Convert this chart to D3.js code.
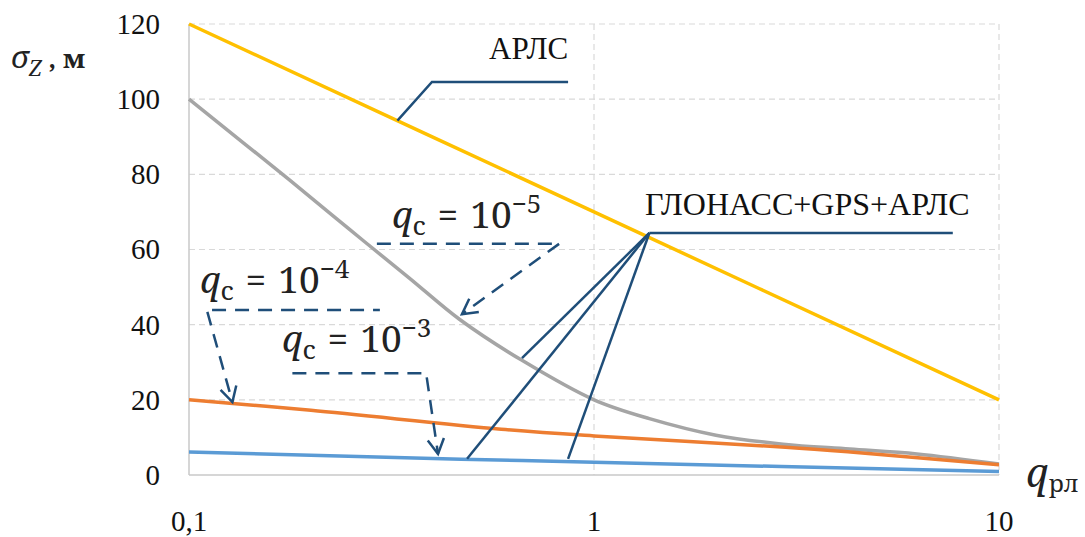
<!DOCTYPE html>
<html>
<head>
<meta charset="utf-8">
<script src="https://cdn.jsdelivr.net/npm/d3@7"></script>
<style>
  html, body { margin: 0; padding: 0; background: #fff; }
  svg { display: block; }
</style>
</head>
<body>
<svg id="chart" width="1085" height="537"></svg>
<script>
// q_рл values (log axis) and σ_Z series, metres
const qArls   = [0.1, 1, 10];
const arls    = [120, 70, 20];

const qGray   = [0.1, 0.177, 0.25, 0.35, 0.467, 0.664, 1, 1.37, 2, 2.93, 4.28, 6.27, 10];
const qc5     = [100, 78.5, 65.2, 52.4, 41.3, 30.5, 20, 15, 10.6, 8.2, 6.9, 5.6, 2.9];

const qOrange = [0.1, 0.2, 0.59, 1, 2.97, 4.3, 10];
const qc4     = [20, 17.2, 12.2, 10.4, 7.4, 6.1, 2.7];

const qBlue   = [0.1, 0.47, 1, 10];
const qc3     = [6.1, 4.2, 3.4, 0.9];

const yTicks  = [0, 20, 40, 60, 80, 100, 120];
const xTicks  = [0.1, 1, 10];
const xTickLabels = ["0,1", "1", "10"];

const TNR  = '"Liberation Serif"';
const MATH = '"Noto Serif"';

const svg = d3.select("#chart");
const x = d3.scaleLog().domain([0.1, 10]).range([189, 999]);
const y = d3.scaleLinear().domain([0, 120]).range([475, 24]);

// grid
const grid = svg.append("g").attr("stroke", "#d9d9d9").attr("stroke-width", 1.2)
  .attr("stroke-dasharray", "6,4").attr("fill", "none");
yTicks.filter(v => v > 0).forEach(v => {
  grid.append("line").attr("x1", x(0.1)).attr("x2", x(10)).attr("y1", y(v)).attr("y2", y(v));
});
[1, 10].forEach(v => {
  grid.append("line").attr("x1", x(v)).attr("x2", x(v)).attr("y1", y(120)).attr("y2", y(0));
});

// axis lines
svg.append("line").attr("x1", x(0.1)).attr("x2", x(0.1)).attr("y1", y(120)).attr("y2", y(0))
  .attr("stroke", "#c8c8c8").attr("stroke-width", 1.5);
svg.append("line").attr("x1", x(0.1)).attr("x2", x(10)).attr("y1", y(0)).attr("y2", y(0))
  .attr("stroke", "#c8c8c8").attr("stroke-width", 1.5);

// tick labels
svg.append("g").selectAll("text").data(yTicks).join("text")
  .style("font-family", TNR)
  .attr("x", 160).attr("y", d => y(d)).attr("dy", "0.34em")
  .attr("text-anchor", "end").attr("font-size", 29)
  .attr("fill", "#111").text(d => d);
svg.append("g").selectAll("text").data(xTicks).join("text")
  .style("font-family", TNR)
  .attr("x", d => x(d)).attr("y", 531)
  .attr("text-anchor", "middle").attr("font-size", 29)
  .attr("fill", "#111").text((d, i) => xTickLabels[i]);

// series
const line = d3.line().x(d => x(d[0])).y(d => y(d[1])).curve(d3.curveCatmullRom.alpha(0.5));
const series = [
  { q: qArls, v: arls, color: "#ffc000" },
  { q: qGray, v: qc5, color: "#a5a5a5" },
  { q: qOrange, v: qc4, color: "#ed7d31" },
  { q: qBlue, v: qc3, color: "#5b9bd5" }
];
series.forEach(s => {
  svg.append("path").datum(s.q.map((q, i) => [q, s.v[i]]))
    .attr("d", line).attr("fill", "none").attr("stroke", s.color)
    .attr("stroke-width", 3.5).attr("stroke-linecap", "butt");
});

// annotations
const P = (q, v) => [x(q), y(v)];
const ann = svg.append("g").attr("stroke", "#1f4e79").attr("stroke-width", 2.5).attr("fill", "none");
const poly = (pts, dashed) => ann.append("path").attr("d", d3.line()(pts))
  .attr("stroke-dasharray", dashed ? "14,9" : null);
const arrowHead = (from, to) => {
  const a = Math.atan2(to[1] - from[1], to[0] - from[0]);
  const L = 17, s = 0.5;
  const p1 = [to[0] - L * Math.cos(a - s), to[1] - L * Math.sin(a - s)];
  const p2 = [to[0] - L * Math.cos(a + s), to[1] - L * Math.sin(a + s)];
  ann.append("path").attr("d", d3.line()([p1, to, p2]));
};

// АРЛС leader
poly([P(0.327, 94.3), P(0.398, 104.6), P(0.863, 104.6)]);
// ГЛОНАСС+GPS+АРЛС leaders
const hub = P(1.37, 64.4);
poly([P(7.69, 64.4), hub]);
poly([hub, P(0.664, 31.1)]);
poly([hub, P(0.486, 4.3)]);
poly([hub, P(0.863, 4.3)]);

// q_c = 10^-5
poly([P(0.291, 61.5), P(0.82, 61.5)], true);
poly([P(0.82, 61.5), P(0.472, 42.8)], true);
arrowHead(P(0.82, 61.5), P(0.472, 42.8));
// q_c = 10^-4
poly([P(0.114, 43.9), P(0.296, 43.9)], true);
poly([P(0.111, 43.4), P(0.128, 19.4)], true);
arrowHead(P(0.111, 43.4), P(0.128, 19.4));
// q_c = 10^-3
poly([P(0.18, 27.1), P(0.385, 27.1), P(0.412, 5.6)], true);
arrowHead(P(0.385, 27.1), P(0.412, 5.6));

// text labels
svg.append("text").style("font-family", TNR).attr("x", x(0.863)).attr("y", 59).attr("text-anchor", "end")
  .attr("font-size", 31).attr("fill", "#111").text("АРЛС");
svg.append("text").style("font-family", TNR).attr("x", 645).attr("y", 215)
  .attr("font-size", 32).attr("fill", "#111").text("ГЛОНАСС+GPS+АРЛС");

function qcLabel(px, py, exp) {
  const t = svg.append("text").style("font-family", MATH).attr("x", px).attr("y", py)
    .attr("font-size", 37).attr("fill", "#222");
  t.append("tspan").attr("font-style", "italic").text("q");
  t.append("tspan").attr("font-size", 26).attr("dy", 7).text("с");
  t.append("tspan").attr("dy", -7).attr("dx", 12).text("=");
  t.append("tspan").attr("dx", 12).text("10");
  t.append("tspan").attr("font-size", 26).attr("dy", -15).text("−" + exp);
}
qcLabel(392, 228, 5);
qcLabel(200, 293, 4);
qcLabel(282, 352, 3);

// axis titles
const yt = svg.append("text").style("font-family", MATH).attr("x", 11).attr("y", 68)
  .attr("font-size", 31).attr("fill", "#222");
yt.append("tspan").attr("font-style", "italic").text("σ");
yt.append("tspan").attr("font-style", "italic").attr("font-size", 21).attr("dy", 8).text("Z");
yt.append("tspan").attr("dy", -8).attr("font-weight", "bold").attr("font-size", 26).text(" , м");

const xt = svg.append("text").style("font-family", MATH).attr("x", 1026).attr("y", 487)
  .attr("font-size", 40).attr("fill", "#222");
xt.append("tspan").attr("font-style", "italic").text("q");
xt.append("tspan").attr("font-size", 24).attr("dy", 5).text("рл");
</script>
</body>
</html>
